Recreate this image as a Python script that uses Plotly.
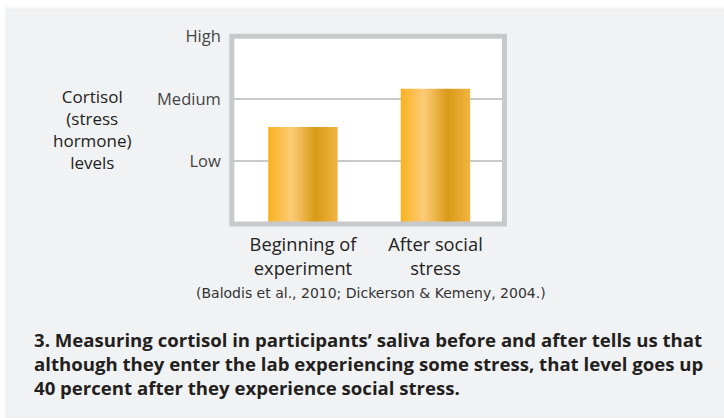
import plotly.graph_objects as go

# ---- data ----
categories = ["Beginning of<br>experiment", "After social<br>stress"]
cortisol_levels = [1.55, 2.16]
level_values = [1, 2, 3]
level_labels = ["Low", "Medium", "High"]
axis_title = "Cortisol<br>(stress<br>hormone)<br>levels"
citation = "(Balodis et al., 2010; Dickerson &amp; Kemeny, 2004.)"
caption_lines = [
    "3. Measuring cortisol in participants’ saliva before and after tells us that",
    "although they enter the lab experiencing some stress, that level goes up",
    "40 percent after they experience social stress.",
]

W, H = 724, 418
BAR_W = 0.524
grad = [[0.0, "#f9b11f"], [0.33, "#fdcc78"], [0.68, "#d99a17"], [1.0, "#f2b542"]]

fig = go.Figure()
for i, v in enumerate(cortisol_levels):
    x0, x1 = i - BAR_W / 2, i + BAR_W / 2
    fig.add_trace(go.Scatter(
        x=[x0, x1, x1, x0, x0], y=[0, 0, v, v, 0],
        mode="lines", line=dict(width=0), fill="toself",
        fillgradient=dict(type="horizontal", colorscale=grad),
        hoverinfo="skip", showlegend=False))

px_x0, px_x1 = 231.8, 504.5
px_top, px_bot = 36.2, 224.0

annotations = [
    dict(text=axis_title, xref="paper", yref="paper", x=92 / W, y=1 - 129 / H,
         showarrow=False, align="center", xanchor="center", yanchor="middle",
         font=dict(size=17, color="#222", family="Open Sans")),
    dict(text=citation, xref="paper", yref="paper", x=371 / W, y=1 - 293 / H,
         showarrow=False, xanchor="center", yanchor="middle",
         font=dict(size=14, color="#333", family="DejaVu Sans")),
    dict(text="<b>" + "<br>".join(caption_lines) + "</b>", xref="paper", yref="paper",
         x=32 / W, y=1 - 363 / H, showarrow=False, align="left",
         xanchor="left", yanchor="middle",
         font=dict(size=18.6, color="#231f20", family="Open Sans")),
]

fig.update_layout(
    width=W, height=H, margin=dict(l=0, r=0, t=0, b=0, autoexpand=False),
    paper_bgcolor="white", plot_bgcolor="white",
    font=dict(family="Open Sans", color="#333"),
    xaxis=dict(domain=[px_x0 / W, px_x1 / W], range=[-0.537, 1.521], automargin=False,
               tickvals=[0, 1], ticktext=categories, showgrid=False, zeroline=False,
               ticks="", ticklabelstandoff=8,
               tickfont=dict(size=18.3, color="#222", family="Open Sans")),
    yaxis=dict(domain=[1 - px_bot / H, 1 - px_top / H], range=[0, 3], automargin=False,
               tickvals=level_values, ticktext=level_labels,
               showgrid=True, gridcolor="#c8c9cb", gridwidth=2, zeroline=False,
               ticks="", ticklabelstandoff=10,
               tickfont=dict(size=16.5, color="#444", family="Open Sans")),
    shapes=[
        dict(type="rect", xref="paper", yref="paper", x0=4 / W, x1=1.02, y0=1 - 421 / H, y1=1 - 6 / H,
             fillcolor="rgba(0,0,0,0.025)", line_width=0, layer="below"),
        dict(type="rect", xref="paper", yref="paper", x0=6 / W, x1=1.02, y0=1 - 419 / H, y1=1 - 8.5 / H,
             fillcolor="rgba(0,0,0,0.035)", line_width=0, layer="below"),
        dict(type="rect", xref="paper", yref="paper", x0=8 / W, x1=1.02, y0=1 - 416 / H, y1=1 - 11 / H,
             fillcolor="#f1f2f4", line_width=0, layer="below"),
        dict(type="rect", xref="x domain", yref="y domain", x0=0, x1=1, y0=0, y1=1,
             fillcolor="white", line_width=0, layer="below"),
        dict(type="rect", xref="x domain", yref="y domain", x0=0, x1=1, y0=0, y1=1,
             line=dict(color="#c8c9cb", width=5), layer="above"),
    ],
    annotations=annotations,
)

post = ("document.body.style.margin='0';document.body.style.padding='0';"
        "var gd=document.getElementById('{plot_id}');"
        "gd.style.position='absolute';gd.style.top='0px';gd.style.left='0px';")
fig.write_html("out.html", config={"displayModeBar": False}, post_script=post)
